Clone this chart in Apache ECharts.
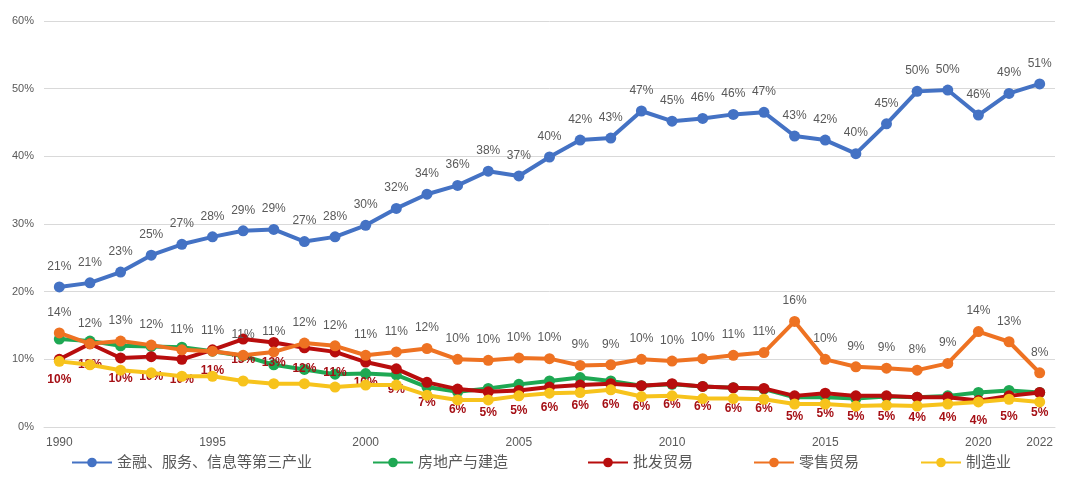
<!DOCTYPE html>
<html>
<head>
<meta charset="utf-8">
<script src="https://cdn.jsdelivr.net/npm/echarts@6/dist/echarts.min.js"></script>
<style>
html, body { margin: 0; padding: 0; background: #fff; }
#chart { width: 1080px; height: 501px; }
</style>
</head>
<body>
<div id="chart"></div>
<script>
var years = [];
for (var y = 1990; y <= 2022; y++) years.push(String(y));

// 金融、服务、信息等第三产业
var finance = [20.7, 21.3, 22.9, 25.4, 27.0, 28.1, 29.0, 29.2, 27.4, 28.1, 29.8, 32.3, 34.4, 35.7, 37.8, 37.1, 39.9, 42.4, 42.7, 46.7, 45.2, 45.6, 46.2, 46.5, 43.0, 42.4, 40.4, 44.8, 49.6, 49.8, 46.1, 49.3, 50.7];
// 房地产与建造
var estate = [13.0, 12.7, 12.0, 11.9, 11.8, 11.2, 10.5, 9.2, 8.5, 7.8, 7.9, 7.7, 5.9, 5.2, 5.7, 6.3, 6.8, 7.3, 6.8, 6.1, 6.3, 6.0, 5.8, 5.6, 4.4, 4.4, 4.2, 4.5, 4.4, 4.6, 5.1, 5.4, 5.1];
// 批发贸易
var wholesale = [10.0, 12.3, 10.2, 10.4, 10.0, 11.4, 13.0, 12.5, 11.7, 11.1, 9.6, 8.6, 6.6, 5.6, 5.2, 5.4, 5.9, 6.2, 6.4, 6.1, 6.4, 6.0, 5.8, 5.7, 4.6, 5.0, 4.6, 4.6, 4.4, 4.4, 3.9, 4.6, 5.1];
// 零售贸易
var retail = [13.9, 12.3, 12.7, 12.1, 11.4, 11.2, 10.6, 11.1, 12.4, 12.0, 10.6, 11.1, 11.6, 10.0, 9.85, 10.2, 10.1, 9.1, 9.2, 10.0, 9.75, 10.1, 10.6, 11.0, 15.6, 10.0, 8.9, 8.7, 8.4, 9.4, 14.1, 12.6, 8.0];
// 制造业
var manufacturing = [9.7, 9.2, 8.4, 8.0, 7.5, 7.5, 6.8, 6.4, 6.4, 5.9, 6.2, 6.2, 4.7, 4.0, 4.0, 4.6, 5.0, 5.1, 5.5, 4.5, 4.6, 4.2, 4.2, 4.1, 3.4, 3.4, 3.1, 3.2, 3.1, 3.4, 3.7, 4.1, 3.7];

var names = ["金融、服务、信息等第三产业", "房地产与建造", "批发贸易", "零售贸易", "制造业"];
var colors = ["#4472C4", "#1EA853", "#B80D0D", "#EE7222", "#F7C31C"];
var legendLeft = [66, 367, 582, 748, 915];

var font = "'Liberation Sans', 'Noto Sans CJK SC', sans-serif";

function pct(p) {
    return Math.round(p.value) + "%";
}

function makeSeries(i, data, label) {
    return {
        name: names[i],
        type: "line",
        data: data,
        symbol: "circle",
        symbolSize: 11,
        lineStyle: { width: 4, color: colors[i] },
        itemStyle: { color: colors[i] },
        label: label,
        z: 2 + i
    };
}

var chart = echarts.init(document.getElementById("chart"));

var legends = [];
for (var i = 0; i < names.length; i++) {
    legends.push({
        data: [names[i]],
        left: legendLeft[i],
        top: 450,
        itemWidth: 40,
        itemHeight: 12,
        itemGap: 2,
        textStyle: { color: "#595959", fontSize: 15, fontFamily: font }
    });
}

var option = {
    animation: false,
    backgroundColor: "#fff",
    textStyle: { fontFamily: font },
    grid: { left: 44, right: 25, top: 21, bottom: 74 },
    legend: legends,
    xAxis: {
        type: "category",
        data: years,
        boundaryGap: true,
        axisLine: { lineStyle: { color: "#d9d9d9", width: 1 } },
        axisTick: { show: false },
        axisLabel: {
            color: "#595959",
            fontSize: 12,
            margin: 10,
            interval: function (idx) { return idx % 5 === 0 || idx === years.length - 1; }
        }
    },
    yAxis: {
        type: "value",
        min: 0,
        max: 60,
        interval: 10,
        axisLine: { show: false },
        axisTick: { show: false },
        splitLine: { lineStyle: { color: "#d9d9d9", width: 1 } },
        axisLabel: { color: "#595959", fontSize: 11, margin: 10, formatter: "{value}%" }
    },
    series: [
        makeSeries(0, finance, { show: true, position: "top", distance: 9, color: "#595959", fontSize: 12, formatter: pct }),
        makeSeries(1, estate, { show: false }),
        makeSeries(2, wholesale, { show: true, position: "bottom", distance: 9, color: "#A50F15", fontSize: 12, fontWeight: "bold", formatter: pct }),
        makeSeries(3, retail, { show: true, position: "top", distance: 9, color: "#595959", fontSize: 12, formatter: pct }),
        makeSeries(4, manufacturing, { show: false })
    ]
};

chart.setOption(option);
</script>
</body>
</html>
